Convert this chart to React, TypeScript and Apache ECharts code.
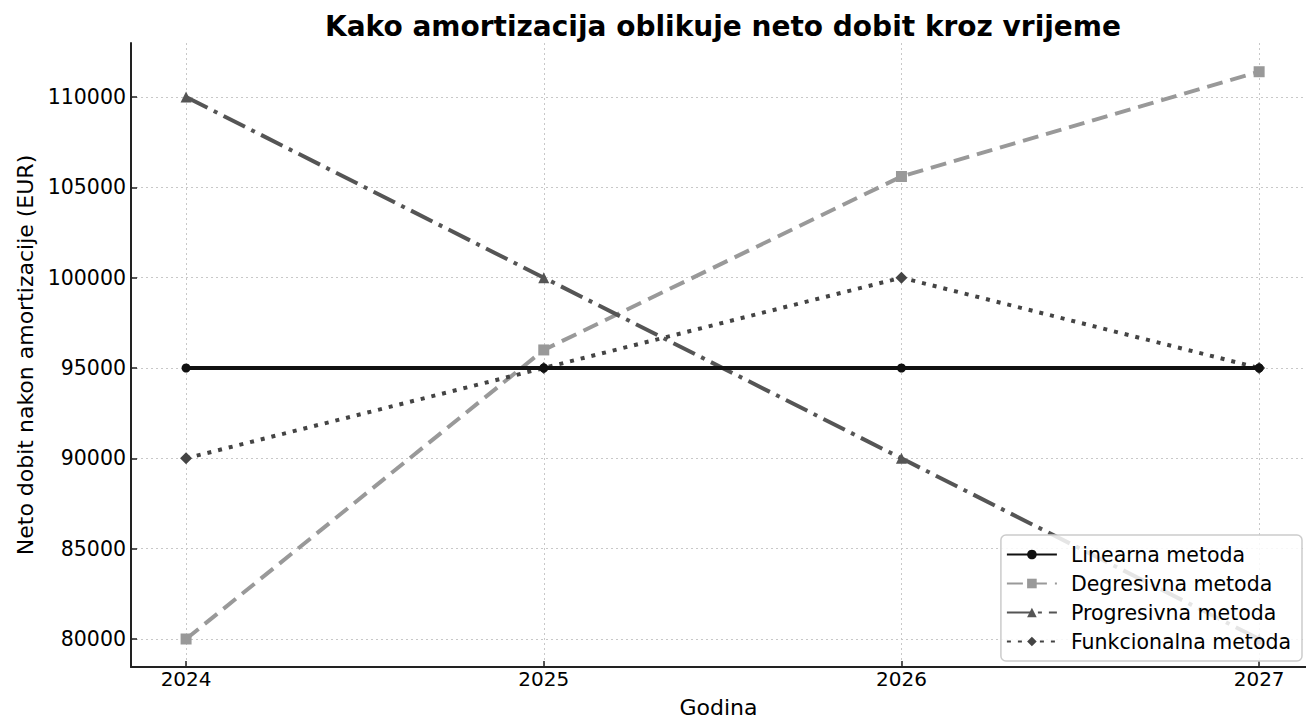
import React, { useEffect, useRef } from "react";
import * as echarts from "echarts";

const years = [2024, 2025, 2026, 2027];
const linearna = [95000, 95000, 95000, 95000];
const degresivna = [80000, 96000, 105600, 111400];
const progresivna = [110000, 100000, 90000, 80000];
const funkcionalna = [90000, 95000, 100000, 95000];
const yTicks = [80000, 85000, 90000, 95000, 100000, 105000, 110000];

const FONT = "DejaVu Sans";

function pairs(vals: number[]) {
  return years.map((y, i) => [y, vals[i]]);
}

export default function App() {
  const ref = useRef<HTMLDivElement>(null);
  useEffect(() => {
    document.body.style.margin = "0";
    if (!ref.current) return;
    const chart = echarts.init(ref.current, null, { renderer: "svg" });
    const gridLine = { show: true, lineStyle: { color: "#c8c8c8", type: [2, 3], width: 1 } };
    chart.setOption({
      animation: false,
      backgroundColor: "#fff",
      textStyle: { fontFamily: FONT },
      title: {
        text: "Kako amortizacija oblikuje neto dobit kroz vrijeme",
        left: 718,
        textAlign: "center",
        top: 7,
        textStyle: { fontFamily: FONT, fontSize: 28, fontWeight: "bold", color: "#000" },
      },
      grid: { left: 131, right: 0, top: 43, bottom: 52, containLabel: false, outerBoundsMode: "none" },
      xAxis: {
        type: "value",
        min: 2023.846,
        max: 2027.131,
        name: "Godina",
        nameLocation: "middle",
        nameGap: 29,
        nameTextStyle: { fontFamily: FONT, fontSize: 22, color: "#000" },
        axisLine: { show: true, lineStyle: { color: "#222", width: 2 } },
        axisTick: { show: true, inside: true, customValues: years, length: 6, lineStyle: { color: "#222", width: 1.5 } },
        axisLabel: {
          customValues: years,
          formatter: (v: number) => String(Math.round(v)),
          fontFamily: FONT,
          fontSize: 20,
          color: "#000",
          margin: 2,
        },
        splitLine: gridLine,
      },
      yAxis: {
        type: "value",
        min: 78450,
        max: 112990,
        name: "Neto dobit nakon amortizacije (EUR)",
        nameLocation: "middle",
        nameGap: 79,
        nameRotate: 90,
        nameTextStyle: { fontFamily: FONT, fontSize: 22, color: "#000" },
        axisLine: { show: true, lineStyle: { color: "#222", width: 2 } },
        axisTick: { show: true, inside: true, customValues: yTicks, length: 6, lineStyle: { color: "#222", width: 1.5 } },
        axisLabel: {
          customValues: yTicks,
          formatter: (v: number) => String(Math.round(v)),
          fontFamily: FONT,
          fontSize: 20.5,
          color: "#000",
          margin: 5,
        },
        splitLine: gridLine,
      },
      legend: {
        orient: "vertical",
        right: 4,
        bottom: 58,
        itemWidth: 50,
        itemHeight: 12,
        itemGap: 8,
        padding: [9, 11, 9, 5],
        borderColor: "#ccc",
        borderWidth: 1.5,
        borderRadius: 5,
        backgroundColor: "rgba(255,255,255,0.85)",
        textStyle: { fontFamily: FONT, fontSize: 20.5, color: "#000", padding: [0, 0, 0, 9] },
        data: ["Linearna metoda", "Degresivna metoda", "Progresivna metoda", "Funkcionalna metoda"],
      },
      series: [
        {
          name: "Linearna metoda",
          type: "line",
          data: pairs(linearna),
          symbol: "circle",
          symbolSize: 9,
          itemStyle: { color: "#111" },
          lineStyle: { color: "#111", width: 4, type: "solid" },
          z: 4,
        },
        {
          name: "Degresivna metoda",
          type: "line",
          data: pairs(degresivna),
          symbol: "rect",
          symbolSize: 11,
          itemStyle: { color: "#999" },
          lineStyle: { color: "#999", width: 4, type: [16, 8] },
          z: 3,
        },
        {
          name: "Progresivna metoda",
          type: "line",
          data: pairs(progresivna),
          symbol: "triangle",
          symbolSize: 11,
          itemStyle: { color: "#555" },
          lineStyle: { color: "#555", width: 4, type: [24, 7, 4, 7] },
          z: 3,
        },
        {
          name: "Funkcionalna metoda",
          type: "line",
          data: pairs(funkcionalna),
          symbol: "diamond",
          symbolSize: 12,
          itemStyle: { color: "#444" },
          lineStyle: { color: "#444", width: 4, type: [4, 7] },
          z: 3,
        },
      ],
    });
    return () => chart.dispose();
  }, []);
  return <div ref={ref} style={{ width: 1306, height: 719 }} />;
}
